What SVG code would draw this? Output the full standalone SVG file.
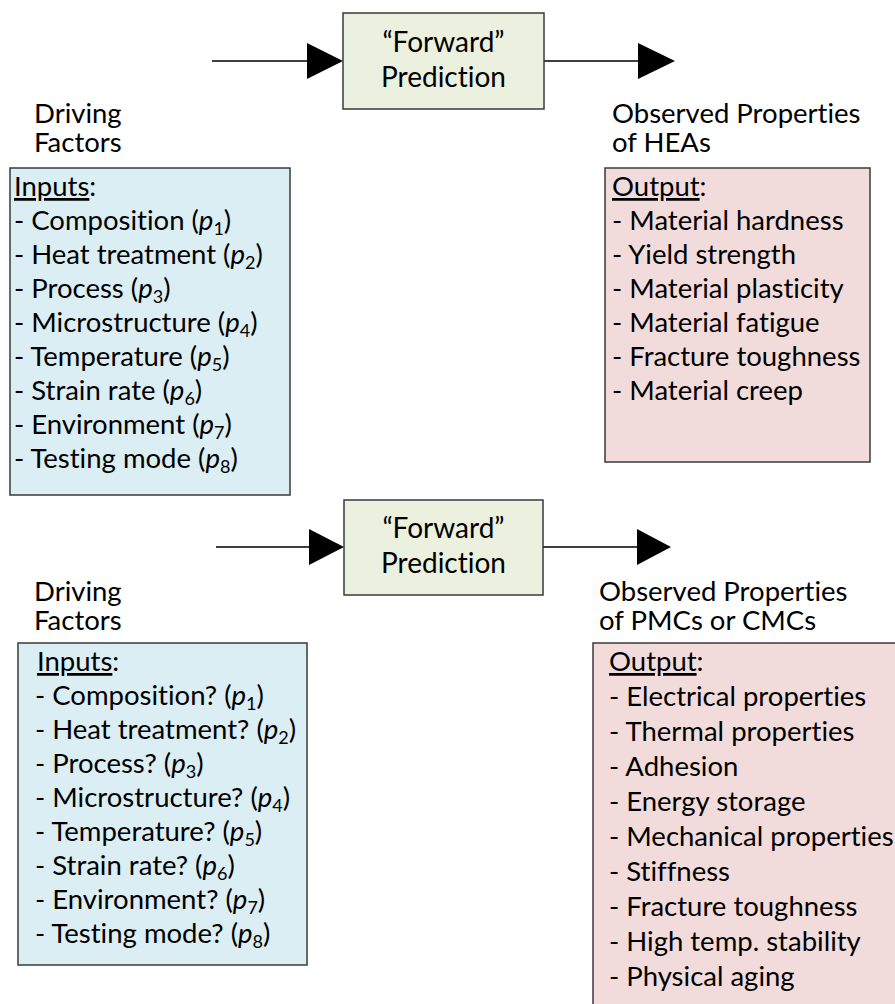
<svg xmlns="http://www.w3.org/2000/svg" width="895" height="1004" viewBox="0 0 895 1004">
  <style>
    text { font-family: Lato, "Liberation Sans", sans-serif; font-size: 27.5px; fill: #000; font-variant-ligatures: none; }
    .mid { text-anchor: middle; font-size: 28px; }
    .box { stroke: #3a3a3a; stroke-width: 1.5; }
    .fwd { fill: #ebf1de; }
    .inp { fill: #dbeef4; }
    .out { fill: #f2dcdb; }
    .wire { stroke: #000; stroke-width: 1.5; fill: none; }
    .head { fill: #000; }
    .u { text-decoration: underline; }
    .i { font-style: italic; }
    .s { font-size: 18px; }
  </style>

  <!-- connectors -->
  <g id="connectors">
    <line class="wire" x1="212" y1="61" x2="308" y2="61"/>
    <polygon class="head" points="307,43 343,61 307,79"/>
    <line class="wire" x1="544" y1="61" x2="639" y2="61"/>
    <polygon class="head" points="638,43 675,61 638,79"/>

    <line class="wire" x1="216" y1="547" x2="310" y2="547"/>
    <polygon class="head" points="309,529 344,547 309,565"/>
    <line class="wire" x1="543" y1="547" x2="638" y2="547"/>
    <polygon class="head" points="637,529 671,547 637,565"/>
  </g>

  <!-- upper chain: HEAs -->
  <g id="forward-hea">
    <rect class="box fwd" x="343" y="13" width="201" height="96"/>
    <text class="mid" x="443.5" y="52">“Forward”</text>
    <text class="mid" x="443.5" y="87">Prediction</text>
  </g>

  <g id="label-driving-hea">
    <text x="34" y="123">Driving</text>
    <text x="34" y="152">Factors</text>
  </g>

  <g id="inputs-hea">
    <rect class="box inp" x="10" y="168" width="280" height="327"/>
    <text x="14" y="196"><tspan class="u">Inputs</tspan>:</text>
    <text x="14" y="230">- Composition (<tspan class="i">p</tspan><tspan class="s" dy="5">1</tspan><tspan dy="-5">)</tspan></text>
    <text x="14" y="264">- Heat treatment (<tspan class="i">p</tspan><tspan class="s" dy="5">2</tspan><tspan dy="-5">)</tspan></text>
    <text x="14" y="298">- Process (<tspan class="i">p</tspan><tspan class="s" dy="5">3</tspan><tspan dy="-5">)</tspan></text>
    <text x="14" y="332">- Microstructure (<tspan class="i">p</tspan><tspan class="s" dy="5">4</tspan><tspan dy="-5">)</tspan></text>
    <text x="14" y="366">- Temperature (<tspan class="i">p</tspan><tspan class="s" dy="5">5</tspan><tspan dy="-5">)</tspan></text>
    <text x="14" y="400">- Strain rate (<tspan class="i">p</tspan><tspan class="s" dy="5">6</tspan><tspan dy="-5">)</tspan></text>
    <text x="14" y="434">- Environment (<tspan class="i">p</tspan><tspan class="s" dy="5">7</tspan><tspan dy="-5">)</tspan></text>
    <text x="14" y="468">- Testing mode (<tspan class="i">p</tspan><tspan class="s" dy="5">8</tspan><tspan dy="-5">)</tspan></text>
  </g>

  <g id="label-observed-hea">
    <text x="612" y="123">Observed Properties</text>
    <text x="612" y="152">of HEAs</text>
  </g>

  <g id="outputs-hea">
    <rect class="box out" x="605" y="168" width="265" height="294"/>
    <text x="612" y="196"><tspan class="u">Output</tspan>:</text>
    <text x="612" y="230">- Material hardness</text>
    <text x="612" y="264">- Yield strength</text>
    <text x="612" y="298">- Material plasticity</text>
    <text x="612" y="332">- Material fatigue</text>
    <text x="612" y="366">- Fracture toughness</text>
    <text x="612" y="400">- Material creep</text>
  </g>

  <!-- lower chain: PMCs / CMCs -->
  <g id="forward-composite">
    <rect class="box fwd" x="344" y="500" width="199" height="95"/>
    <text class="mid" x="443.5" y="538">“Forward”</text>
    <text class="mid" x="443.5" y="573">Prediction</text>
  </g>

  <g id="label-driving-composite">
    <text x="34" y="601">Driving</text>
    <text x="34" y="630">Factors</text>
  </g>

  <g id="inputs-composite">
    <rect class="box inp" x="18" y="643" width="289" height="322"/>
    <text x="37" y="671"><tspan class="u">Inputs</tspan>:</text>
    <text x="35" y="705">- Composition? (<tspan class="i">p</tspan><tspan class="s" dy="5">1</tspan><tspan dy="-5">)</tspan></text>
    <text x="35" y="739">- Heat treatment? (<tspan class="i">p</tspan><tspan class="s" dy="5">2</tspan><tspan dy="-5">)</tspan></text>
    <text x="35" y="773">- Process? (<tspan class="i">p</tspan><tspan class="s" dy="5">3</tspan><tspan dy="-5">)</tspan></text>
    <text x="35" y="807">- Microstructure? (<tspan class="i">p</tspan><tspan class="s" dy="5">4</tspan><tspan dy="-5">)</tspan></text>
    <text x="35" y="841">- Temperature? (<tspan class="i">p</tspan><tspan class="s" dy="5">5</tspan><tspan dy="-5">)</tspan></text>
    <text x="35" y="875">- Strain rate? (<tspan class="i">p</tspan><tspan class="s" dy="5">6</tspan><tspan dy="-5">)</tspan></text>
    <text x="35" y="909">- Environment? (<tspan class="i">p</tspan><tspan class="s" dy="5">7</tspan><tspan dy="-5">)</tspan></text>
    <text x="35" y="943">- Testing mode? (<tspan class="i">p</tspan><tspan class="s" dy="5">8</tspan><tspan dy="-5">)</tspan></text>
  </g>

  <g id="label-observed-composite">
    <text x="599" y="601">Observed Properties</text>
    <text x="599" y="630">of PMCs or CMCs</text>
  </g>

  <g id="outputs-composite">
    <rect class="box out" x="593" y="643" width="310" height="370"/>
    <text x="609" y="671"><tspan class="u">Output</tspan>:</text>
    <text x="609" y="706">- Electrical properties</text>
    <text x="609" y="741">- Thermal properties</text>
    <text x="609" y="776">- Adhesion</text>
    <text x="609" y="811">- Energy storage</text>
    <text x="609" y="846">- Mechanical properties</text>
    <text x="609" y="881">- Stiffness</text>
    <text x="609" y="916">- Fracture toughness</text>
    <text x="609" y="951">- High temp. stability</text>
    <text x="609" y="986">- Physical aging</text>
  </g>
</svg>
